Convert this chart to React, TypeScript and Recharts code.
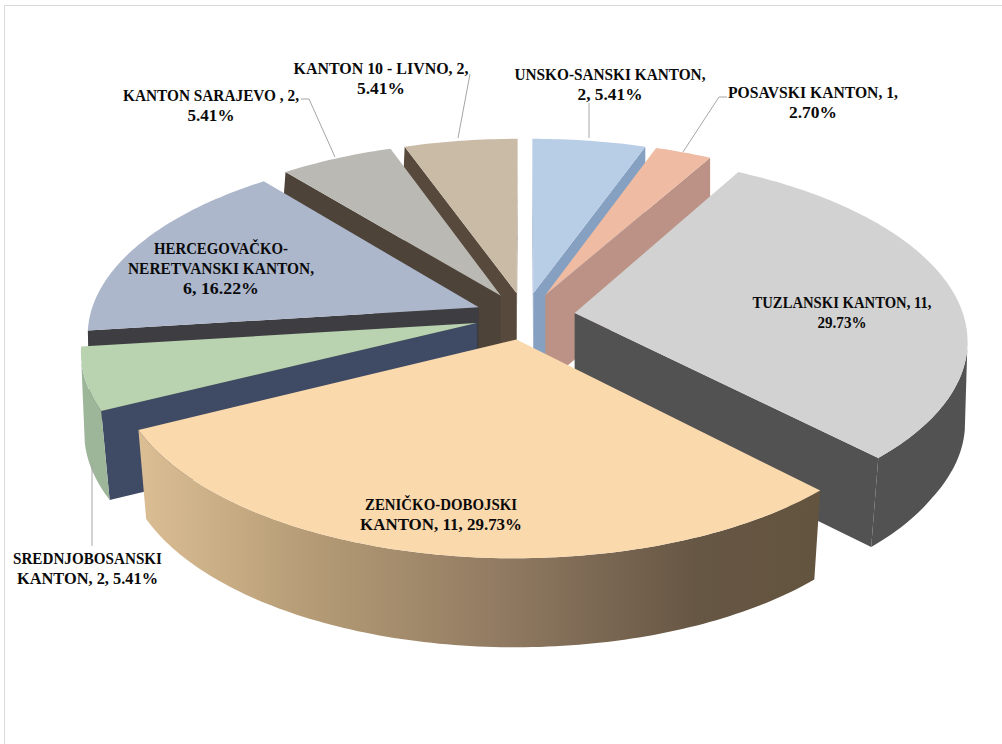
import React from "react";
import { PieChart, Pie } from "recharts";

const names = [
  "UNSKO-SANSKI KANTON",
  "POSAVSKI KANTON",
  "TUZLANSKI KANTON",
  "ZENIČKO-DOBOJSKI KANTON",
  "SREDNJOBOSANSKI KANTON",
  "HERCEGOVAČKO-NERETVANSKI KANTON",
  "KANTON SARAJEVO",
  "KANTON 10 - LIVNO",
];
const counts = [2, 1, 11, 11, 2, 6, 2, 2];
const labelLines = [
  ["UNSKO-SANSKI KANTON,", "2, 5.41%"],
  ["POSAVSKI KANTON, 1,", "2.70%"],
  ["TUZLANSKI KANTON, 11,", "29.73%"],
  ["ZENIČKO-DOBOJSKI", "KANTON, 11, 29.73%"],
  ["SREDNJOBOSANSKI", "KANTON, 2, 5.41%"],
  ["HERCEGOVAČKO-", "NERETVANSKI KANTON,", "6, 16.22%"],
  ["KANTON SARAJEVO , 2,", "5.41%"],
  ["KANTON 10 - LIVNO, 2,", "5.41%"],
];

// styling / layout, kept apart from the data
const topColors = ["#b8cde6", "#efbba3", "#d2d2d2", "#fad9ad", "#b9d3b1", "#adb7cc", "#bbb9b3", "#cabba6"];
const cutColors = ["#86a0c2", "#bb9285", "#525252", "#6a5a45", "#3f4a64", "#3e3d42", "#4d4339", "#57493b"];
const arcColors = ["#86a0c2", "#bb9285", "#525252", "url(#zenWall)", "#9db598", "#3e3d42", "#4d4339", "#57493b"];
const drawOrder = [7, 6, 5, 4, 0, 1, 2, 3];
const labelAnchors = [
  { x: 610, y: 73.5 },
  { x: 813, y: 91 },
  { x: 842, y: 301.5 },
  { x: 441, y: 503.5 },
  { x: 87.5, y: 557 },
  { x: 221, y: 247 },
  { x: 211, y: 94 },
  { x: 381, y: 67.5 },
];
const lineWidths = [
  [191, 65],
  [170, 48],
  [179, 49],
  [152, 162],
  [149, 141],
  [134, 186, 76],
  [176, 47],
  [175, 48],
];
const leaders = [
  "589,103 589,138",
  "727,97 719,97 683,152",
  "",
  "",
  "92,465 92,546",
  "",
  "301,99 309,99 335,157",
  "470,74 458,138",
];

const slices = names.map((name, i) => ({ name, value: counts[i] }));

const PERSP = 7.26;
const TILT = 0.4668;
const EXPLODE = 0.129;
const DEPTH = 89;
const rad = (d: number) => (d * Math.PI) / 180;

function Slice3D(props: any) {
  const { cx, cy, outerRadius: R, startAngle, endAngle, index } = props;
  const a0 = 90 - startAngle;
  const a1 = 90 - endAngle;
  const mid = (a0 + a1) / 2;
  const ox = EXPLODE * Math.sin(rad(mid));
  const oy = EXPLODE * Math.cos(rad(mid));
  const project = (X: number, Y: number): [number, number] => {
    const s = PERSP / (PERSP + Y);
    return [cx + X * s * R, cy - Y * s * R * TILT];
  };
  // the extruded bottom edge converges toward the centre in front, and leans outward at the back left
  const down = (p: [number, number]): [number, number] => {
    const lean = p[1] >= 310 ? Math.min(0.02, (p[1] - 310) * 0.0002) : p[0] < cx ? (p[1] - 310) * 0.0002 : 0;
    return [cx + (p[0] - cx) * (1 - lean), p[1] + DEPTH];
  };
  const apex = project(ox, oy);
  const n = Math.max(4, Math.ceil(a1 - a0));
  const arc: [number, number][] = [];
  for (let k = 0; k <= n; k++) {
    const t = rad(a0 + ((a1 - a0) * k) / n);
    arc.push(project(ox + Math.sin(t), oy + Math.cos(t)));
  }
  const d = (pts: [number, number][]) =>
    "M" + pts.map((p) => p[0].toFixed(2) + "," + p[1].toFixed(2)).join("L") + "Z";
  const wall = (pts: [number, number][]) => d([...pts, ...pts.slice().reverse().map(down)]);

  const run: [number, number][] = [];
  for (let k = 0; k < n; k++) {
    if (arc[k + 1][0] < arc[k][0]) {
      if (!run.length) run.push(arc[k]);
      run.push(arc[k + 1]);
    }
  }
  const last = arc[arc.length - 1];
  return (
    <g>
      {arc[0][0] < apex[0] && <path d={wall([apex, arc[0]])} fill={cutColors[index]} />}
      {apex[0] < last[0] && <path d={wall([last, apex])} fill={cutColors[index]} />}
      {run.length > 1 && <path d={wall(run)} fill={arcColors[index]} />}
      <path d={d([apex, ...arc])} fill={topColors[index]} />
    </g>
  );
}

const renderLabel = (props: any) => {
  const { index } = props;
  const anchor = labelAnchors[index];
  return (
    <g>
      {labelLines[index].map((line, k) => (
        <text
          key={k}
          x={anchor.x}
          y={anchor.y + 6.5 + k * 20.3}
          textAnchor="middle"
          fontFamily="'Liberation Serif', serif"
          fontWeight={700}
          fontSize={17}
          fill="#0a0a0a"
          textLength={lineWidths[index][k]}
          lengthAdjust="spacingAndGlyphs"
        >
          {line}
        </text>
      ))}
    </g>
  );
};

const renderLeader = (props: any) =>
  leaders[props.index] ? (
    <polyline points={leaders[props.index]} fill="none" stroke="#a6a6a6" strokeWidth={1} />
  ) : (
    <g />
  );

const pieGeometry = {
  data: slices,
  dataKey: "value",
  nameKey: "name",
  cx: 525,
  cy: 316,
  innerRadius: 0,
  outerRadius: 389,
  startAngle: 90,
  endAngle: -270,
  paddingAngle: 0,
  stroke: "none",
  isAnimationActive: false,
};

export default function App() {
  return (
    <div style={{ position: "fixed", left: 0, top: 0, width: 1002, height: 744, overflow: "hidden", background: "#fff" }}>
      <div style={{ position: "absolute", left: 4, top: 5, width: 1200, height: 900, border: "1.5px solid #d9d9d9" }} />
      <div style={{ position: "absolute", left: 0, top: 0 }}>
        <PieChart width={1002} height={744} margin={{ top: 0, right: 0, bottom: 0, left: 0 }}>
          <defs>
            <linearGradient id="zenWall" x1="0" y1="0" x2="1" y2="0">
              <stop offset="0" stopColor="#dcbe94" />
              <stop offset="0.25" stopColor="#b59c76" />
              <stop offset="0.55" stopColor="#8e7860" />
              <stop offset="0.82" stopColor="#665644" />
              <stop offset="1" stopColor="#63543f" />
            </linearGradient>
          </defs>
          {drawOrder.map((i) => (
            <Pie
              key={i}
              {...pieGeometry}
              shape={(p: any) => (p.index === i ? <Slice3D {...p} /> : <g />)}
            />
          ))}
          <Pie
            key="labels"
            {...pieGeometry}
            shape={() => <g />}
            label={renderLabel}
            labelLine={renderLeader}
          />
        </PieChart>
      </div>
    </div>
  );
}
